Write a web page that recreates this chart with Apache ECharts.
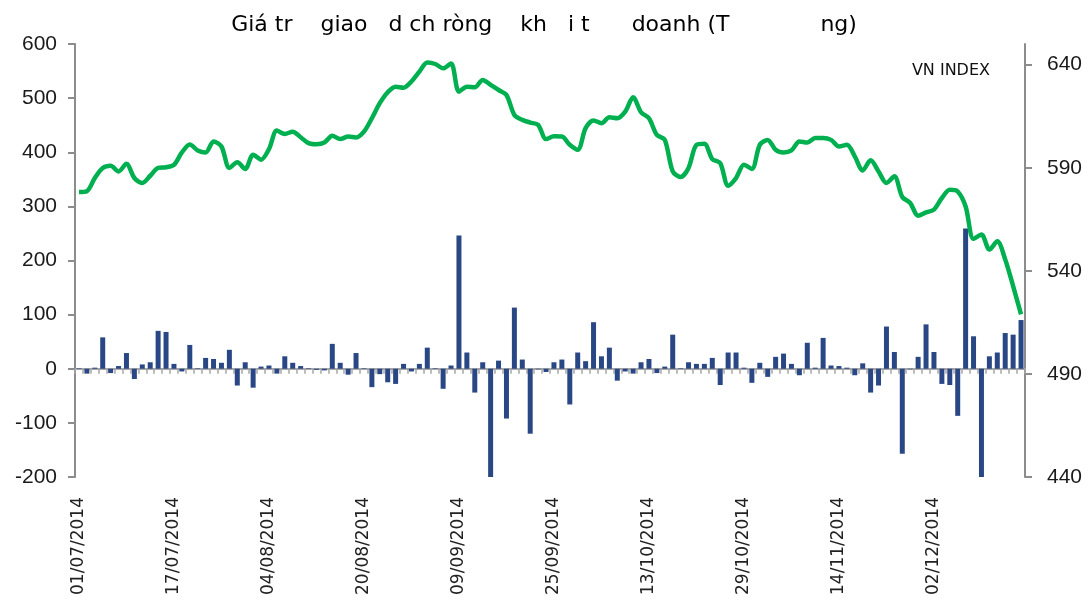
<!DOCTYPE html>
<html><head><meta charset="utf-8">
<script src="https://cdn.jsdelivr.net/npm/echarts@6/dist/echarts.min.js"></script>
<style>html,body{margin:0;padding:0;background:#fff}#c{width:1088px;height:605px}</style>
</head><body><div id="c"></div>
<script>
const titleText = 'Giá tr    giao   d ch ròng    kh   i t      doanh (T             ng)';
const seriesLineName = 'VN INDEX';
const seriesBarName = 'Giá trị ròng';

const categories = [
'01/07/2014','02/07/2014','03/07/2014','04/07/2014','07/07/2014','08/07/2014','09/07/2014','10/07/2014','11/07/2014','14/07/2014','15/07/2014','16/07/2014','17/07/2014','18/07/2014','21/07/2014','22/07/2014','23/07/2014','24/07/2014','25/07/2014','28/07/2014','29/07/2014','30/07/2014','31/07/2014',
'01/08/2014','04/08/2014','05/08/2014','06/08/2014','07/08/2014','08/08/2014','11/08/2014','12/08/2014','13/08/2014','14/08/2014','15/08/2014','18/08/2014','19/08/2014','20/08/2014','21/08/2014','22/08/2014','25/08/2014','26/08/2014','27/08/2014','28/08/2014','29/08/2014',
'03/09/2014','04/09/2014','05/09/2014','08/09/2014','09/09/2014','10/09/2014','11/09/2014','12/09/2014','15/09/2014','16/09/2014','17/09/2014','18/09/2014','19/09/2014','22/09/2014','23/09/2014','24/09/2014','25/09/2014','26/09/2014','29/09/2014','30/09/2014',
'01/10/2014','02/10/2014','03/10/2014','06/10/2014','07/10/2014','08/10/2014','09/10/2014','10/10/2014','13/10/2014','14/10/2014','15/10/2014','16/10/2014','17/10/2014','20/10/2014','21/10/2014','22/10/2014','23/10/2014','24/10/2014','27/10/2014','28/10/2014','29/10/2014','30/10/2014','31/10/2014',
'03/11/2014','04/11/2014','05/11/2014','06/11/2014','07/11/2014','10/11/2014','11/11/2014','12/11/2014','13/11/2014','14/11/2014','17/11/2014','18/11/2014','19/11/2014','20/11/2014','21/11/2014','24/11/2014','25/11/2014','26/11/2014','27/11/2014','28/11/2014',
'01/12/2014','02/12/2014','03/12/2014','04/12/2014','05/12/2014','08/12/2014','09/12/2014','10/12/2014','11/12/2014','12/12/2014','15/12/2014','16/12/2014','17/12/2014'
];

const netValue = [
1,-9,2,58,-8,5,29,-19,8,12,
70,68,9,-5,44,1,20,18,11,35,
-31,12,-35,4,6,-9,23,11,5,1,
-2,-3,46,11,-11,29,1,-34,-10,-25,
-28,9,-5,9,39,1,-37,6,246,30,
-44,12,-200,15,-92,113,17,-120,-1,-6,
12,17,-66,30,14,86,23,39,-22,-5,
-9,12,18,-8,4,63,1,12,9,9,
20,-30,30,30,2,-26,11,-15,22,28,
9,-12,48,2,57,6,5,2,-12,10,
-44,-31,78,31,-157,-1,22,82,31,-28,
-30,-87,259,60,-200,23,30,66,63,90
];

const vnIndex = [
578.2,578.6,585,589.9,591,588.2,591.9,585,582.6,586.1,
589.9,590.2,591.4,597.4,601.3,598.4,597.4,602.7,600.3,589.9,
592.6,589.4,596.3,593.9,599,608,606.4,607.5,604.8,601.9,
601.4,602.2,605.5,603.9,605.1,604.7,607.5,614,621.3,626.6,
629.3,628.8,631.8,636.6,641,640.3,638.2,640.6,626.9,629.3,
629,632.6,630.2,627.7,625.3,615.6,613.2,611.9,610.8,603.9,
605.2,605.1,601.1,598.7,609.2,612.9,611.6,614.5,614,617.2,
624.2,616.9,614,605.9,603.5,588.2,585.5,589.9,601.1,601.6,
594.2,592.2,581.3,585,591.4,589.4,601.1,603.5,598.7,597.4,
598.4,602.7,602.2,604.4,604.4,603.5,600.3,601.1,595.5,588.7,
593.6,588.2,582.6,585.8,575.8,572.9,566.7,568.3,569.7,575.3,
579.3,578.5,571.2,555.5,557.6,550.3,554.3,545.5,532.6,518.9
];

const leftTicks = [-200,-100,0,100,200,300,400,500,600];
const rightTicks = [440,490,540,590,640];

const axisGray = '#8c8c8c';
const chart = echarts.init(document.getElementById('c'), null, {renderer:'canvas'});
chart.setOption({
  animation:false,
  backgroundColor:'#ffffff',
  title:{
    text:titleText, left:'center', top:9,
    textStyle:{fontFamily:'DejaVu Sans', fontSize:22, fontWeight:'normal', color:'#000'}
  },
  legend:{
    data:[seriesLineName], right:93, top:58, icon:'rect', itemWidth:0, itemHeight:0, itemGap:0,
    textStyle:{fontFamily:'DejaVu Sans', fontSize:16, color:'#111'}
  },
  grid:{left:75, right:63, top:44, bottom:128, containLabel:false},
  xAxis:[
    {type:'category', data:categories, position:'bottom', boundaryGap:true,
     axisLine:{show:false, onZero:false}, axisTick:{show:false},
     axisLabel:{interval:11, rotate:90, margin:20, fontFamily:'DejaVu Sans', fontSize:17, color:'#222'}},
    {type:'category', data:categories, position:'bottom', boundaryGap:true,
     axisLine:{show:true, onZero:true, onZeroAxisIndex:0, lineStyle:{color:'#a6a6a6', width:2}},
     axisTick:{show:true, interval:0, length:5, lineStyle:{color:'#a6a6a6', width:1.5}},
     axisLabel:{show:false}}
  ],
  yAxis:[
    {type:'value', min:leftTicks[0], max:leftTicks[leftTicks.length-1], interval:100, position:'left',
     axisLine:{show:true, lineStyle:{color:axisGray, width:2}},
     axisTick:{show:true, length:7, lineStyle:{color:axisGray, width:2}},
     axisLabel:{margin:18, fontFamily:'Liberation Sans', fontSize:21, color:'#1a1a1a'},
     splitLine:{show:false}},
    {type:'value', min:440, max:650, interval:50, position:'right',
     axisLine:{show:true, lineStyle:{color:axisGray, width:2}},
     axisTick:{show:true, length:7, customValues:rightTicks, lineStyle:{color:axisGray, width:2}},
     axisLabel:{margin:22, customValues:rightTicks, fontFamily:'Liberation Sans', fontSize:21, color:'#1a1a1a',
       formatter:v => rightTicks.indexOf(v) >= 0 ? String(v) : ''},
     splitLine:{show:false}}
  ],
  series:[
    {name:seriesBarName, type:'bar', xAxisIndex:0, yAxisIndex:0, data:netValue, barWidth:5,
     itemStyle:{color:'#2a4785'}},
    {name:seriesLineName, type:'line', xAxisIndex:0, yAxisIndex:1, data:vnIndex, smooth:0.3,
     symbol:'none', lineStyle:{color:'#00b050', width:4.5}, itemStyle:{color:'#00b050'}}
  ]
});
</script>
</body></html>
